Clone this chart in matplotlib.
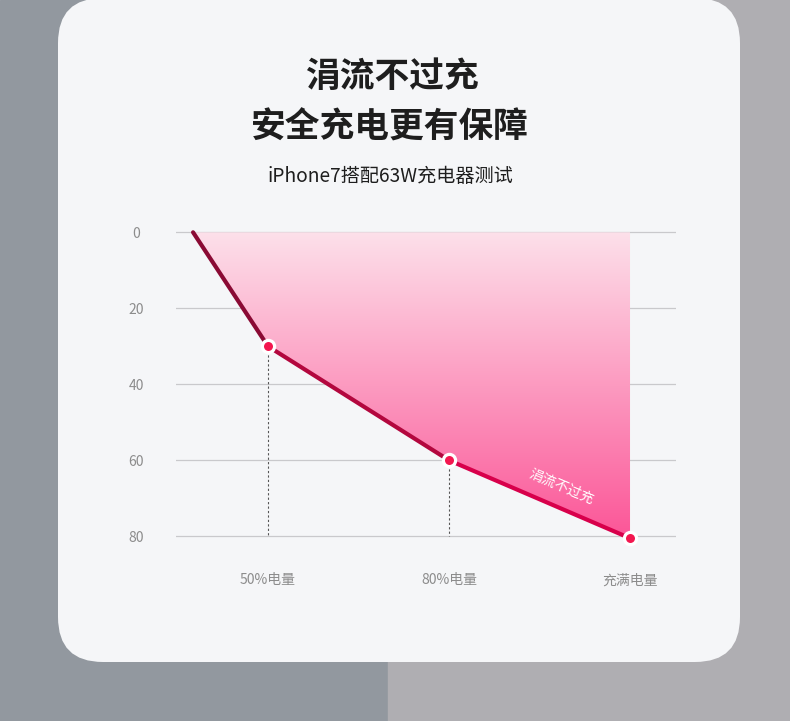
import numpy as np
import matplotlib
matplotlib.use("Agg")
from matplotlib import pyplot as plt
from matplotlib.patches import Rectangle, FancyBboxPatch
from matplotlib.collections import LineCollection
from matplotlib.colors import LinearSegmentedColormap

plt.rcParams['font.family'] = ['Noto Sans CJK SC', 'DejaVu Sans']

# data
title_lines = ["涓流不过充", "安全充电更有保障"]
subtitle = "iPhone7搭配63W充电器测试"
curve_x = [0.586, 1, 2, 3]
curve_y = [0, 30, 60, 80.5]
marker_x = [1, 2, 3]
marker_y = [30, 60, 80.5]
x_ticks = [1, 2, 3]
x_labels = ["50%电量", "80%电量", "充满电量"]
y_ticks = [0, 20, 40, 60, 80]
note = "涓流不过充"

W, H = 790, 721
fig = plt.figure(figsize=(W / 100, H / 100), dpi=100)

# background + card, in pixel coordinates
bg = fig.add_axes([0, 0, 1, 1])
bg.set_xlim(0, W)
bg.set_ylim(H, 0)
bg.axis("off")
bg.add_patch(Rectangle((0, 0), 388, H, color="#92989f", zorder=0))
bg.add_patch(Rectangle((388, 0), W - 388, H, color="#afaeb2", zorder=0))
bg.add_patch(FancyBboxPatch((58, -2), 682, 664, boxstyle="round,pad=0,rounding_size=45",
                            facecolor="#f5f6f8", edgecolor="none", zorder=1))

bg.text(392, 77, title_lines[0], ha="center", va="center", fontsize=25,
        fontweight="bold", color="#1e1e1e", zorder=2)
bg.text(390, 127, title_lines[1], ha="center", va="center", fontsize=25,
        fontweight="bold", color="#1e1e1e", zorder=2)
bg.text(390, 177, subtitle, ha="center", va="center", fontsize=13.8,
        fontweight="medium", color="#1e1e1e", zorder=2)

# chart: 0 -> 232.3px, 80 -> 536.3px, axes padded a little so the 80 grid line shows
ax = fig.add_axes([176 / W, 1 - 545 / H, 500 / W, 319 / H])
ax.set_facecolor("none")
ax.set_xlim(0.4917, 3.254)
ax.set_ylim(82.29, -1.66)
for s in ax.spines.values():
    s.set_visible(False)

ax.set_yticks(y_ticks)
ax.set_yticklabels([str(v) for v in y_ticks])
ax.set_xticks(x_ticks)
ax.set_xticklabels(x_labels)
ax.tick_params(axis="y", length=0, pad=28.5, labelsize=10, labelcolor="#8c8c8c")
ax.tick_params(axis="x", length=0, pad=20.5, labelsize=10, labelcolor="#8c8c8c")
for lbl in ax.get_yticklabels():
    lbl.set_horizontalalignment("center")
ax.yaxis.grid(True, color="#c9c9cc", linewidth=0.9)
ax.set_axisbelow(True)

# gradient area between curve and 0
poly = ax.fill_between(curve_x, curve_y, 0, color="none", linewidth=0)
cmap = LinearSegmentedColormap.from_list("pk", ["#fde0ea", "#fc9ac0", "#fb5597"])
grad = np.linspace(0, 1, 256).reshape(-1, 1)
im = ax.imshow(grad, cmap=cmap, aspect="auto", extent=(0.4917, 3.254, 81, 0),
               origin="upper", zorder=1)
im.set_clip_path(poly.get_paths()[0], transform=ax.transData)

# dotted guides
ax.vlines(marker_x[:2], marker_y[:2], 80, colors="#555555", linestyles=(0, (2, 2)),
          linewidth=0.8, zorder=2)

# line with dark-to-red colouring
pts = np.column_stack([curve_x, curve_y])
segs = [pts[i:i + 2] for i in range(len(pts) - 1)]
lc = LineCollection(segs, colors=["#8a0a34", "#b3073e", "#d8004b"], linewidth=3,
                    capstyle="round", joinstyle="round", zorder=3)
ax.add_collection(lc)

ax.plot(marker_x, marker_y, "o", markersize=8.8, markerfacecolor="#f3164f",
        markeredgecolor="white", markeredgewidth=2.3, zorder=4, clip_on=False)

ax.text(2.62, 67, note, ha="center", va="center", rotation=-23, rotation_mode="anchor",
        fontsize=10, color="white", zorder=5)

fig.savefig("out.png", dpi=100)
